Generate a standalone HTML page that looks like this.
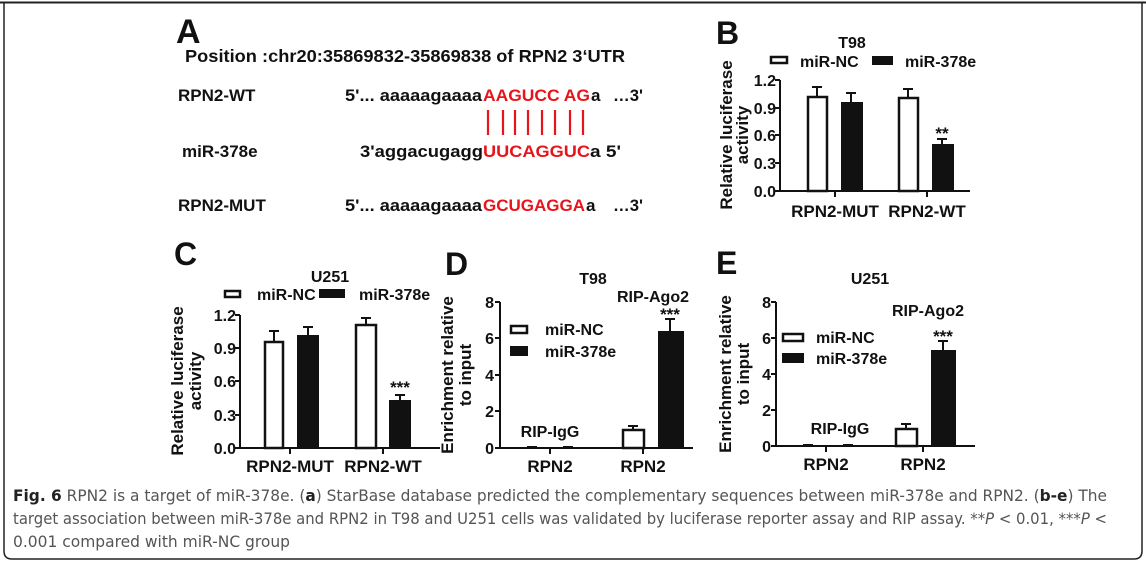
<!DOCTYPE html>
<html><head><meta charset="utf-8"><style>
html,body{margin:0;padding:0;background:#fff}
svg{display:block;font-family:"Liberation Sans",Arial,sans-serif}
text{font-family:"Liberation Sans",Arial,sans-serif}
.b{font-weight:bold;fill:#111}
.t{font-size:16px;font-weight:bold;fill:#111}
.l{font-size:17px;font-weight:bold;fill:#111}
.ax{stroke:#111;stroke-width:2;fill:none}
.ob{fill:#fff;stroke:#111;stroke-width:2.5}
.bb{fill:#111;stroke:#111;stroke-width:2}
text.cap{font-family:"DejaVu Sans","Liberation Sans",sans-serif;font-size:16px;fill:#555}
.r{fill:#e8141b;font-weight:bold}
</style></head><body>
<svg width="1146" height="567" viewBox="0 0 1146 567" xmlns="http://www.w3.org/2000/svg">
<rect x="0" y="0" width="1146" height="567" fill="#fff"/>
<path d="M0 2.5 H1146" stroke="#222" stroke-width="2"/>
<path d="M4 2 V551 Q4 559 12 559 H1134 Q1142 559 1142 551 V2" stroke="#222" stroke-width="1.5" fill="none"/>

<!-- Panel A -->
<text x="176" y="43" class="b" font-size="34" style="font-size:34px">A</text>
<text x="185" y="62" class="b" style="font-size:17.5px" textLength="440" lengthAdjust="spacingAndGlyphs">Position :chr20:35869832-35869838 of RPN2 3‘UTR</text>
<text x="178" y="101" class="l">RPN2-WT</text>
<text x="345" y="101" class="l" textLength="137" lengthAdjust="spacingAndGlyphs">5'... aaaaagaaaa</text>
<text x="483" y="101" class="r" style="font-size:17px" textLength="107" lengthAdjust="spacingAndGlyphs">AAGUCC AG</text>
<text x="591" y="101" class="l">a</text>
<text x="613" y="101" class="l" textLength="30" lengthAdjust="spacingAndGlyphs">…3'</text>
<g stroke="#e8141b" stroke-width="2.2">
<path d="M488 110V135M503 110V135M515 110V135M528 110V135M542 110V135M555 110V135M570 110V135M583 110V135"/>
</g>
<text x="182" y="157" class="l">miR-378e</text>
<text x="360" y="157" class="l" textLength="123" lengthAdjust="spacingAndGlyphs">3'aggacugagg</text>
<text x="483" y="157" class="r" style="font-size:17px" textLength="107" lengthAdjust="spacingAndGlyphs">UUCAGGUC</text>
<text x="590" y="157" class="l" textLength="31" lengthAdjust="spacingAndGlyphs">a 5'</text>
<text x="178" y="211" class="l">RPN2-MUT</text>
<text x="345" y="211" class="l" textLength="137" lengthAdjust="spacingAndGlyphs">5'... aaaaagaaaa</text>
<text x="483" y="211" class="r" style="font-size:17px" textLength="102" lengthAdjust="spacingAndGlyphs">GCUGAGGA</text>
<text x="586" y="211" class="l">a</text>
<text x="613" y="211" class="l" textLength="30" lengthAdjust="spacingAndGlyphs">…3'</text>

<!-- Panel B -->
<text x="716" y="44" class="b" style="font-size:32px">B</text>
<text x="852" y="48" class="t" text-anchor="middle">T98</text>
<rect x="771" y="57" width="16" height="6" class="ob" stroke-width="2"/>
<text x="800" y="67" class="t">miR-NC</text>
<rect x="872" y="56" width="21" height="9" fill="#111"/>
<text x="905" y="67" class="t">miR-378e</text>
<text transform="translate(732,135) rotate(-90)" class="l" text-anchor="middle">Relative luciferase</text>
<text transform="translate(748,135) rotate(-90)" class="l" text-anchor="middle">activity</text>
<g class="t" text-anchor="end">
<text x="776" y="86">1.2</text><text x="776" y="114">0.9</text><text x="776" y="141">0.6</text><text x="776" y="169">0.3</text><text x="776" y="197">0.0</text>
</g>
<path class="ax" d="M780 80V191H970M775 80H780M775 108H780M775 135H780M775 163H780M775 191H780M835 191V197M927 191V197"/>
<path class="ax" d="M817 97V87M812 87H822M851 103V93M846 93H856M908 98V89M903 89H913M942 145V139M937 139H947"/>
<rect x="808" y="97" width="19" height="94" class="ob"/>
<rect x="842" y="103" width="20" height="88" class="bb"/>
<rect x="899" y="98" width="19" height="93" class="ob"/>
<rect x="933" y="145" width="20" height="46" class="bb"/>
<text x="942" y="139" class="l" text-anchor="middle">**</text>
<text x="835" y="217" class="l" text-anchor="middle">RPN2-MUT</text>
<text x="927" y="217" class="l" text-anchor="middle">RPN2-WT</text>

<!-- Panel C -->
<text x="174" y="265" class="b" style="font-size:32px">C</text>
<text x="330" y="282" class="t" text-anchor="middle">U251</text>
<rect x="225" y="291" width="15" height="6" class="ob" stroke-width="2"/>
<text x="257" y="300" class="t">miR-NC</text>
<rect x="319" y="289" width="26" height="9" fill="#111"/>
<text x="359" y="300" class="t">miR-378e</text>
<text transform="translate(183,381) rotate(-90)" class="l" text-anchor="middle">Relative luciferase</text>
<text transform="translate(201,381) rotate(-90)" class="l" text-anchor="middle">activity</text>
<g class="t" text-anchor="end">
<text x="236" y="321">1.2</text><text x="236" y="354">0.9</text><text x="236" y="387">0.6</text><text x="236" y="421">0.3</text><text x="236" y="454">0.0</text>
</g>
<path class="ax" d="M240 315V448H440M235 315H240M235 348H240M235 381H240M235 415H240M235 448H240M290 448V454M383 448V454"/>
<path class="ax" d="M274 342V331M269 331H279M308 336V327M303 327H313M366 325V318M361 318H371M400 401V395M395 395H405"/>
<rect x="265" y="342" width="18" height="106" class="ob"/>
<rect x="298" y="336" width="20" height="112" class="bb"/>
<rect x="356" y="325" width="20" height="123" class="ob"/>
<rect x="390" y="401" width="20" height="47" class="bb"/>
<text x="400" y="393" class="l" text-anchor="middle">***</text>
<text x="290" y="472" class="l" text-anchor="middle">RPN2-MUT</text>
<text x="383" y="472" class="l" text-anchor="middle">RPN2-WT</text>

<!-- Panel D -->
<text x="445" y="275" class="b" style="font-size:32px">D</text>
<text x="593" y="284" class="t" text-anchor="middle">T98</text>
<text x="653" y="302" class="t" text-anchor="middle">RIP-Ago2</text>
<text transform="translate(453,375) rotate(-90)" class="l" text-anchor="middle">Enrichment relative</text>
<text transform="translate(471,375) rotate(-90)" class="l" text-anchor="middle">to input</text>
<g class="t" text-anchor="end">
<text x="494" y="308">8</text><text x="494" y="344">6</text><text x="494" y="381">4</text><text x="494" y="417">2</text><text x="494" y="454">0</text>
</g>
<path class="ax" d="M500 302V448H693M495 302H500M495 338H500M495 375H500M495 411H500M495 448H500M550 448V454M643 448V454"/>
<rect x="511" y="326" width="16" height="7" class="ob" stroke-width="2"/>
<text x="545" y="335" class="t">miR-NC</text>
<rect x="510" y="346" width="18" height="10" fill="#111"/>
<text x="545" y="357" class="t">miR-378e</text>
<text x="550" y="437" class="t" text-anchor="middle">RIP-IgG</text>
<path d="M527 447H537M563 447H573" stroke="#111" stroke-width="2"/>
<path class="ax" d="M633 430V426M628 426H638M670 332V319M665 319H675"/>
<rect x="623" y="430" width="21" height="18" class="ob"/>
<rect x="659" y="332" width="24" height="116" class="bb"/>
<text x="670" y="320" class="l" text-anchor="middle">***</text>
<text x="550" y="472" class="l" text-anchor="middle">RPN2</text>
<text x="643" y="472" class="l" text-anchor="middle">RPN2</text>

<!-- Panel E -->
<text x="716" y="274" class="b" style="font-size:32px">E</text>
<text x="870" y="284" class="t" text-anchor="middle">U251</text>
<text x="928" y="316" class="t" text-anchor="middle">RIP-Ago2</text>
<text transform="translate(731,374) rotate(-90)" class="l" text-anchor="middle">Enrichment relative</text>
<text transform="translate(749,374) rotate(-90)" class="l" text-anchor="middle">to input</text>
<g class="t" text-anchor="end">
<text x="771" y="308">8</text><text x="771" y="344">6</text><text x="771" y="380">4</text><text x="771" y="416">2</text><text x="771" y="452">0</text>
</g>
<path class="ax" d="M776 302V446H975M771 302H776M771 338H776M771 374H776M771 410H776M771 446H776M826 446V452M923 446V452"/>
<rect x="783" y="334" width="20" height="7" class="ob" stroke-width="2"/>
<text x="816" y="343" class="t">miR-NC</text>
<rect x="782" y="353" width="22" height="10" fill="#111"/>
<text x="816" y="364" class="t">miR-378e</text>
<text x="840" y="434" class="t" text-anchor="middle">RIP-IgG</text>
<path d="M803 445H813M843 445H853" stroke="#111" stroke-width="2"/>
<path class="ax" d="M906 429V424M901 424H911M943 351V341M938 341H948"/>
<rect x="896" y="429" width="21" height="17" class="ob"/>
<rect x="932" y="351" width="23" height="95" class="bb"/>
<text x="943" y="342" class="l" text-anchor="middle">***</text>
<text x="826" y="470" class="l" text-anchor="middle">RPN2</text>
<text x="923" y="470" class="l" text-anchor="middle">RPN2</text>

<!-- Caption -->
<text x="13" y="501" class="cap" textLength="1094" lengthAdjust="spacingAndGlyphs"><tspan font-weight="bold" fill="#222">Fig. 6</tspan> RPN2 is a target of miR-378e. (<tspan font-weight="bold" fill="#222">a</tspan>) StarBase database predicted the complementary sequences between miR-378e and RPN2. (<tspan font-weight="bold" fill="#222">b-e</tspan>) The</text>
<text x="13" y="524" class="cap" textLength="1094" lengthAdjust="spacingAndGlyphs">target association between miR-378e and RPN2 in T98 and U251 cells was validated by luciferase reporter assay and RIP assay. **<tspan font-style="italic">P</tspan> &lt; 0.01, ***<tspan font-style="italic">P</tspan> &lt;</text>
<text x="13" y="547" class="cap" textLength="277" lengthAdjust="spacingAndGlyphs">0.001 compared with miR-NC group</text>
</svg>
</body></html>
